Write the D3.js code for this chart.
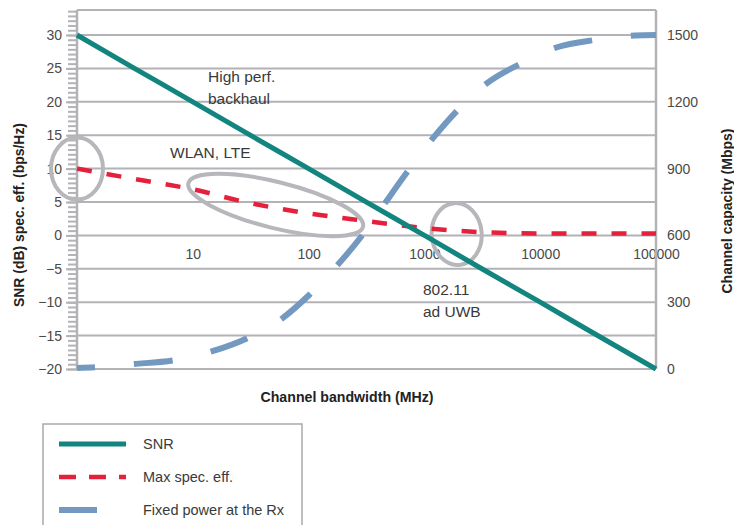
<!DOCTYPE html>
<html>
<head>
<meta charset="utf-8">
<script src="https://cdn.jsdelivr.net/npm/d3@7/dist/d3.min.js"></script>
<style>
  html, body { margin: 0; padding: 0; background: #fff; }
  svg { display: block; }
  .tick text { font-family: "Liberation Sans", Arial, sans-serif; font-size: 14px; fill: #4a4a4a; }
  .title { font-family: "Liberation Sans Narrow", "Liberation Sans", Arial, sans-serif; font-weight: bold; font-size: 15px; fill: #222; }
  .note { font-family: "Liberation Sans", Arial, sans-serif; font-size: 15.5px; fill: #3a3a3a; }
  .legend-text { font-family: "Liberation Sans", Arial, sans-serif; font-size: 14.5px; fill: #3a3a3a; }
</style>
</head>
<body>
<svg id="chart" width="734" height="525"></svg>
<script>
// Channel bandwidth samples (MHz) shared by the SNR and spectral-efficiency series
const bandwidth = [1, 3, 10, 30, 100, 300, 1000, 3000, 10000, 30000, 100000];
// SNR (dB)
const snr = [30, 25.2, 20, 15.2, 10, 5.2, 0, -4.8, -10, -14.8, -20];
// Maximum spectral efficiency (bps/Hz)
const specEff = [10, 8.5, 6.9, 4.9, 3.3, 2.2, 1.1, 0.5, 0.3, 0.3, 0.3];

// Channel capacity (Mbps) with fixed received power
const capBandwidth = [1, 1.5, 3, 7, 15, 30, 60, 100, 180, 300, 450, 700, 1200, 2000, 3500, 7000, 14000, 30000, 66000, 100000];
const capacity = [5, 9, 22, 40, 81, 140, 230, 330, 470, 610, 740, 880, 1040, 1170, 1285, 1375, 1445, 1478, 1498, 1500];

// Tick labels
const xTicks = [10, 100, 1000, 10000, 100000];
const yLeftTicks = [-20, -15, -10, -5, 0, 5, 10, 15, 20, 25, 30];
const yRightTicks = [0, 300, 600, 900, 1200, 1500];

// Callout ellipses: [bandwidth, value, rx, ry, rotation]
const callouts = [
  [1, 10, 26, 31, 0],
  [52, 4.55, 90, 23, 14],
  [1900, 0.2, 25, 31, -5]
];

const svg = d3.select("#chart");
const left = 77, right = 656;
const x = d3.scaleLog().domain([1, 100000]).range([left, right]);
const yL = d3.scaleLinear().domain([-20, 30]).range([369, 35]);
const yR = d3.scaleLinear().domain([0, 1500]).range([369, 35]);
const topVal = 33.75;
const gridColor = "#b2b2b7";

// horizontal grid
const gridVals = yLeftTicks.concat([topVal]);
svg.append("g").selectAll("line").data(gridVals).join("line")
  .attr("x1", left).attr("x2", right)
  .attr("y1", d => yL(d)).attr("y2", d => yL(d))
  .attr("stroke", gridColor).attr("stroke-width", 2);

// minor ticks on left axis
const minor = d3.range(-20, topVal, 5 / 7);
svg.append("g").attr("transform", `translate(${left},0)`)
  .call(d3.axisLeft(yL).tickValues(minor).tickSize(9).tickFormat(""))
  .call(g => g.select(".domain").remove())
  .call(g => g.selectAll(".tick line").attr("stroke", gridColor).attr("stroke-width", 2));

// left axis
svg.append("g").attr("transform", `translate(${left},0)`)
  .call(d3.axisLeft(yL).tickValues(yLeftTicks).tickSize(11).tickPadding(4)
    .tickFormat(d => d < 0 ? "\u2212" + Math.abs(d) : d))
  .call(g => g.select(".domain").remove())
  .call(g => g.selectAll(".tick line").attr("stroke", gridColor).attr("stroke-width", 2));

// right axis labels
svg.append("g").attr("transform", `translate(${right},0)`)
  .call(d3.axisRight(yR).tickValues(yRightTicks).tickSize(0).tickPadding(11).tickFormat(d3.format("d")))
  .call(g => g.select(".domain").remove());

// x axis labels sitting under the zero line
svg.append("g").attr("transform", `translate(0,${yL(0)})`)
  .call(d3.axisBottom(x).tickValues(xTicks).tickSize(0).tickPadding(14).tickFormat(d3.format("d")))
  .call(g => g.select(".domain").remove());

// vertical frame lines
[left, right].forEach(px => {
  svg.append("line").attr("x1", px).attr("x2", px)
    .attr("y1", yL(topVal)).attr("y2", yL(-20))
    .attr("stroke", gridColor).attr("stroke-width", 2.5);
});

// callout ellipses
svg.append("g").selectAll("ellipse").data(callouts).join("ellipse")
  .attr("transform", d => `translate(${x(d[0])},${yL(d[1])}) rotate(${d[4]})`)
  .attr("rx", d => d[2]).attr("ry", d => d[3])
  .attr("fill", "none").attr("stroke", "#b6b6bb").attr("stroke-width", 4);

// capacity curve (right axis)
const capLine = d3.line().x(d => x(d[0])).y(d => yR(d[1])).curve(d3.curveMonotoneX);
svg.append("path")
  .attr("d", capLine(capBandwidth.map((b, i) => [b, capacity[i]])))
  .attr("fill", "none").attr("stroke", "#7399c1").attr("stroke-width", 6)
  .attr("stroke-dasharray", "39,39").attr("stroke-dashoffset", 21);

// spectral efficiency curve
const leftLine = d3.line().x(d => x(d[0])).y(d => yL(d[1])).curve(d3.curveMonotoneX);
svg.append("path")
  .attr("d", leftLine(bandwidth.map((b, i) => [b, specEff[i]])))
  .attr("fill", "none").attr("stroke", "#e4203c").attr("stroke-width", 4.5)
  .attr("stroke-dasharray", "15,15");

// SNR line
svg.append("path")
  .attr("d", leftLine(bandwidth.map((b, i) => [b, snr[i]])))
  .attr("fill", "none").attr("stroke", "#13857f").attr("stroke-width", 5);

// annotations
const notes = [
  ["High perf.", 208, 82], ["backhaul", 208, 104],
  ["WLAN, LTE", 170, 158],
  ["802.11", 423, 295], ["ad UWB", 423, 317]
];
svg.append("g").selectAll("text").data(notes).join("text")
  .attr("class", "note").attr("x", d => d[1]).attr("y", d => d[2]).text(d => d[0]);

// axis titles
svg.append("text").attr("class", "title")
  .attr("transform", "translate(24,215) rotate(-90)")
  .attr("text-anchor", "middle").attr("textLength", 184).attr("lengthAdjust", "spacingAndGlyphs")
  .text("SNR (dB) spec. eff. (bps/Hz)");
svg.append("text").attr("class", "title")
  .attr("transform", "translate(732,211) rotate(-90)")
  .attr("text-anchor", "middle").attr("textLength", 165).attr("lengthAdjust", "spacingAndGlyphs")
  .text("Channel capacity (Mbps)");
svg.append("text").attr("class", "title")
  .attr("x", 347).attr("y", 402)
  .attr("text-anchor", "middle").attr("textLength", 173).attr("lengthAdjust", "spacingAndGlyphs")
  .text("Channel bandwidth (MHz)");

// legend
const legend = svg.append("g");
legend.append("rect").attr("x", 43).attr("y", 424).attr("width", 259).attr("height", 120)
  .attr("fill", "#fff").attr("stroke", "#a9a9ae").attr("stroke-width", 1.5);
const legendItems = [
  ["SNR", "#13857f", 5, null, 126, 444],
  ["Max spec. eff.", "#e4203c", 4.5, "17,13", 126, 477],
  ["Fixed power at the Rx", "#7399c1", 6, null, 97, 510]
];
legendItems.forEach(([label, color, w, dash, x2, yy]) => {
  legend.append("line").attr("x1", 59).attr("x2", x2).attr("y1", yy).attr("y2", yy)
    .attr("stroke", color).attr("stroke-width", w).attr("stroke-dasharray", dash);
  legend.append("text").attr("class", "legend-text").attr("x", 143).attr("y", yy + 5).text(label);
});
</script>
</body>
</html>
